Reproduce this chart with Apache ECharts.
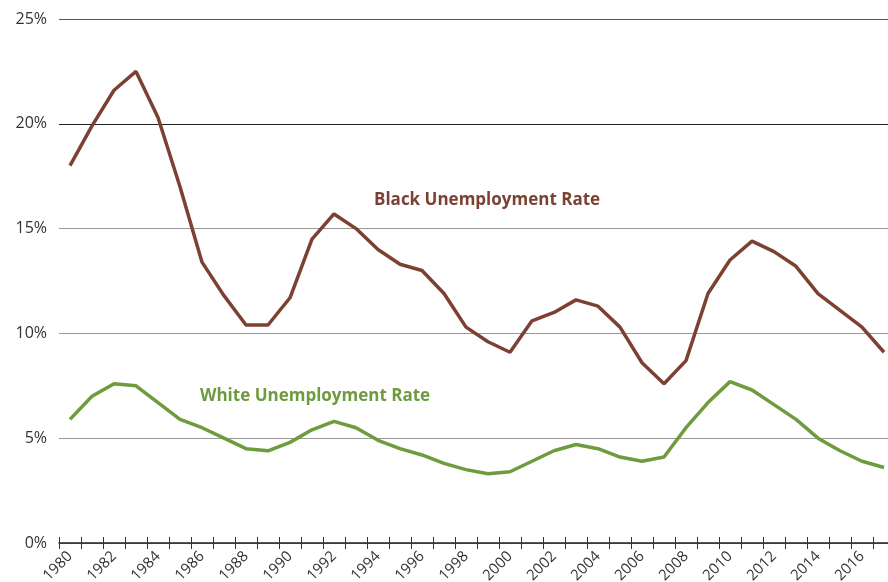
<!DOCTYPE html>
<html>
<head>
<meta charset="utf-8">
<script src="https://cdn.jsdelivr.net/npm/echarts@6/dist/echarts.min.js"></script>
<style>
  html, body { margin: 0; padding: 0; background: #fff; }
  #chart { width: 888px; height: 582px; }
</style>
</head>
<body>
<div id="chart"></div>
<script>
var years = [];
for (var y = 1980; y <= 2017; y++) years.push(String(y));

var blackRate = [18.0, 19.9, 21.6, 22.5, 20.3, 17.0, 13.4, 11.8, 10.4, 10.4,
                 11.7, 14.5, 15.7, 15.0, 14.0, 13.3, 13.0, 11.9, 10.3, 9.6,
                 9.1, 10.6, 11.0, 11.6, 11.3, 10.3, 8.6, 7.6, 8.7, 11.9,
                 13.5, 14.4, 13.9, 13.2, 11.9, 11.1, 10.3, 9.1];
var whiteRate = [5.9, 7.0, 7.6, 7.5, 6.7, 5.9, 5.5, 5.0, 4.5, 4.4,
                 4.8, 5.4, 5.8, 5.5, 4.9, 4.5, 4.2, 3.8, 3.5, 3.3,
                 3.4, 3.9, 4.4, 4.7, 4.5, 4.1, 3.9, 4.1, 5.5, 6.7,
                 7.7, 7.3, 6.6, 5.9, 5.0, 4.4, 3.9, 3.6];

var brown = '#7c4132';
var green = '#6e9b3e';

var chart = echarts.init(document.getElementById('chart'));

chart.setOption({
  animation: false,
  grid: { left: 59, top: 19, width: 836, bottom: 39, containLabel: false, outerBoundsMode: 'none' },
  xAxis: [{
    type: 'category',
    data: years,
    boundaryGap: true,
    axisLine: { show: true, lineStyle: { color: '#222', width: 1.5 } },
    axisTick: { show: true, interval: 0, length: 6, lineStyle: { color: '#333', width: 1 } },
    axisLabel: {
      interval: 1, rotate: 45, margin: 11,
      fontFamily: 'Open Sans', fontSize: 15, color: '#333'
    }
  }, {
    type: 'category',
    data: years,
    position: 'bottom',
    boundaryGap: true,
    axisLine: { show: false },
    axisTick: { show: true, interval: 0, inside: true, length: 6, lineStyle: { color: '#333', width: 1 } },
    axisLabel: { show: false }
  }],
  yAxis: {
    type: 'value',
    min: 0, max: 25, interval: 5,
    axisLine: { show: false },
    axisTick: { show: false },
    axisLabel: {
      formatter: '{value}%', margin: 12,
      fontFamily: 'Open Sans', fontSize: 16, color: '#333'
    },
    splitLine: { lineStyle: { color: ['#888', '#999', '#999', '#999', '#222', '#555'], width: 1 } }
  },
  series: [{
    name: 'Black Unemployment Rate',
    type: 'line',
    data: blackRate,
    symbol: 'none',
    lineStyle: { color: brown, width: 3.5 }
  }, {
    name: 'White Unemployment Rate',
    type: 'line',
    data: whiteRate,
    symbol: 'none',
    lineStyle: { color: green, width: 3.5 }
  }],
  graphic: [{
    type: 'text', left: 374, top: 192,
    style: { text: 'Black Unemployment Rate', fill: brown, font: 'bold 17px "Open Sans"' }
  }, {
    type: 'text', left: 200, top: 388,
    style: { text: 'White Unemployment Rate', fill: green, font: 'bold 17px "Open Sans"' }
  }]
});
</script>
</body>
</html>
